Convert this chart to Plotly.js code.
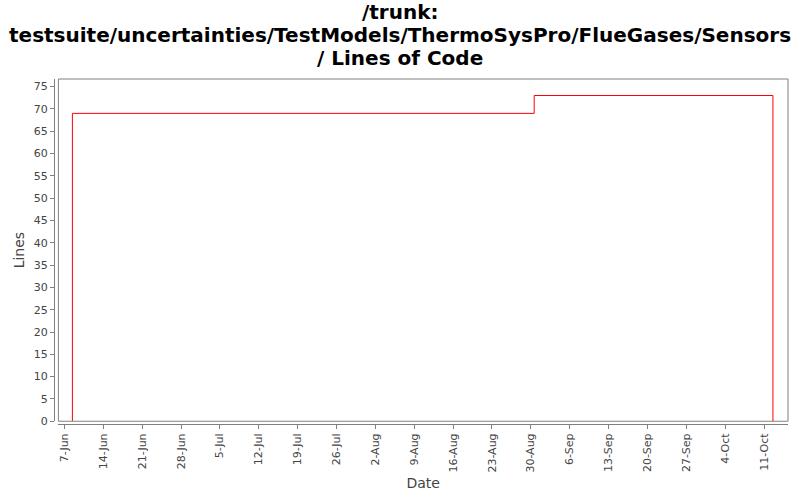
<!DOCTYPE html>
<html>
<head>
<meta charset="utf-8">
<script src="https://cdn.plot.ly/plotly-3.0.1.min.js"></script>
<style>
  body { margin: 0; background: #fff; }
  #chart { width: 800px; height: 500px; }
</style>
</head>
<body>
<div id="chart"></div>
<script>
// lines of code over time (step series)
var dates = ['2010-06-08 10:30', '2010-06-08 10:30', '2010-08-30 14:30', '2010-10-12 14:30', '2010-10-12 14:30'];
var lines = [0, 69, 73, 73, 0];

// chart title, one entry per line
var titleLines = ['/trunk:', 'testsuite/uncertainties/TestModels/ThermoSysPro/FlueGases/Sensors', '/ Lines of Code'];
var titleY = [1.195, 1.128, 1.062];

var axisFont = {family: 'DejaVu Sans, sans-serif', size: 11, color: '#444'};
var titleFont = {family: 'DejaVu Sans, sans-serif', size: 14, color: '#444'};

var data = [{
  x: dates,
  y: lines,
  type: 'scatter',
  mode: 'lines',
  line: {shape: 'hv', color: '#ff0000', width: 1},
  hoverinfo: 'x+y'
}];

var layout = {
  width: 800,
  height: 500,
  paper_bgcolor: '#fff',
  plot_bgcolor: '#fff',
  margin: {l: 54, r: 12, t: 79, b: 76},
  showlegend: false,
  annotations: titleLines.map(function (t, i) {
    return {
      text: '<b>' + t + '</b>',
      xref: 'paper', yref: 'paper',
      // centred on the page, not the plot: (400 - 54) / 734
      x: 0.4714, y: titleY[i],
      xanchor: 'center', yanchor: 'middle',
      showarrow: false,
      font: {family: 'DejaVu Sans, sans-serif', size: 20, color: '#000'}
    };
  }),
  xaxis: {
    type: 'date',
    domain: [0.006, 1],
    anchor: 'free',
    position: 0,
    range: ['2010-06-05 22:00', '2010-10-15 07:40'],
    tick0: '2010-06-07',
    dtick: 7 * 86400000,
    tickformat: '%-d-%b',
    tickangle: -90,
    ticks: 'outside',
    ticklen: 4,
    tickcolor: '#808080',
    showline: true,
    linecolor: '#808080',
    linewidth: 1,
    showgrid: false,
    zeroline: false,
    tickfont: axisFont,
    title: {text: 'Date', font: titleFont, standoff: 6}
  },
  yaxis: {
    domain: [0.008, 1],
    anchor: 'free',
    position: 0,
    range: [0, 76.7],
    dtick: 5,
    ticks: 'outside',
    ticklen: 4,
    tickcolor: '#808080',
    showline: true,
    linecolor: '#808080',
    linewidth: 1,
    showgrid: false,
    zeroline: false,
    tickfont: axisFont,
    title: {text: 'Lines', font: titleFont, standoff: 4}
  },
  shapes: [{
    type: 'rect',
    xref: 'x domain',
    yref: 'y domain',
    x0: 0, x1: 1, y0: 0, y1: 1,
    line: {color: '#808080', width: 1}
  }]
};

Plotly.newPlot('chart', data, layout, {displayModeBar: false, staticPlot: true});
</script>
</body>
</html>
